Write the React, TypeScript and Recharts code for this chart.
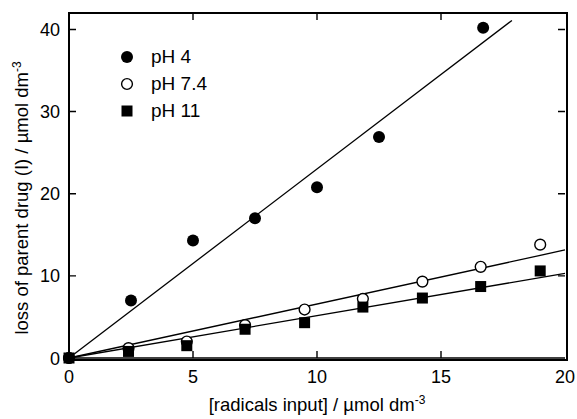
import { ComposedChart, XAxis, YAxis, Scatter, Line } from 'recharts'

const ph4 = [
  { x: 0, y: 0 },
  { x: 2.5, y: 7.0 },
  { x: 5.0, y: 14.3 },
  { x: 7.5, y: 17.0 },
  { x: 10.0, y: 20.8 },
  { x: 12.5, y: 26.9 },
  { x: 16.7, y: 40.2 },
]

const ph74 = [
  { x: 0, y: 0 },
  { x: 2.4, y: 1.2 },
  { x: 4.75, y: 2.0 },
  { x: 7.1, y: 4.0 },
  { x: 9.5, y: 5.9 },
  { x: 11.85, y: 7.2 },
  { x: 14.25, y: 9.3 },
  { x: 16.6, y: 11.1 },
  { x: 19.0, y: 13.8 },
]

const ph11 = [
  { x: 0, y: 0 },
  { x: 2.4, y: 0.8 },
  { x: 4.75, y: 1.5 },
  { x: 7.1, y: 3.5 },
  { x: 9.5, y: 4.3 },
  { x: 11.85, y: 6.2 },
  { x: 14.25, y: 7.3 },
  { x: 16.6, y: 8.7 },
  { x: 19.0, y: 10.6 },
]

// straight-line fits
const fit4 = [
  { x: 0, y: 0 },
  { x: 17.86, y: 41.1 },
]
const fit74 = [
  { x: 0, y: 0 },
  { x: 20, y: 13.15 },
]
const fit11 = [
  { x: 0, y: 0 },
  { x: 20, y: 10.3 },
]

const X_MAX = 20
const Y_MAX = 42
const xTicks = [0, 5, 10, 15, 20]
const yTicks = [0, 10, 20, 30, 40]
const legendItems = [
  { label: 'pH 4', kind: 'filled' },
  { label: 'pH 7.4', kind: 'open' },
  { label: 'pH 11', kind: 'square' },
]

const FONT = '"Liberation Sans", Arial, Helvetica, sans-serif'
const TICK = 7

// chart box
const W = 577
const H = 419
const MARGIN = { top: 13, right: 12, bottom: 0, left: 9 }
const Y_AXIS_W = 60
const X_AXIS_H = 61
const PLOT_X = MARGIN.left + Y_AXIS_W
const PLOT_W = W - MARGIN.left - MARGIN.right - Y_AXIS_W
const PLOT_H = H - MARGIN.top - MARGIN.bottom - X_AXIS_H

const FilledDot = (p: any) => <circle cx={p.cx} cy={p.cy} r={6} fill="#000" />
const OpenDot = (p: any) => (
  <circle cx={p.cx} cy={p.cy} r={5.4} fill="#fff" stroke="#000" strokeWidth={1.4} />
)
const SquareDot = (p: any) => (
  <rect x={p.cx - 5.5} y={p.cy - 5.5} width={11} height={11} fill="#000" />
)

// bottom tick: inward mark, label and the matching mark on the top edge
const BottomTick = (p: any) => {
  const v = p.payload.value
  const top = p.y - PLOT_H
  const inner = v !== 0 && v !== X_MAX
  return (
    <g>
      {inner && (
        <path
          d={`M${p.x},${p.y}V${p.y - TICK}M${p.x},${top}V${top + TICK}`}
          stroke="#000"
          strokeWidth={1.4}
          fill="none"
        />
      )}
      <text x={p.x} y={p.y + 25} textAnchor="middle" fontFamily={FONT} fontSize={18} fill="#000">
        {v}
      </text>
    </g>
  )
}

// left tick: inward mark, label and the matching mark on the right edge
const LeftTick = (p: any) => {
  const v = p.payload.value
  const right = p.x + PLOT_W
  return (
    <g>
      {v !== 0 && (
        <path
          d={`M${p.x},${p.y}H${p.x + TICK}M${right},${p.y}H${right - TICK}`}
          stroke="#000"
          strokeWidth={1.4}
          fill="none"
        />
      )}
      <text x={p.x - 9} y={p.y + 6.5} textAnchor="end" fontFamily={FONT} fontSize={18} fill="#000">
        {v}
      </text>
    </g>
  )
}

function LegendBox() {
  return (
    <div
      style={{
        position: 'absolute',
        left: 117,
        top: 43,
        fontFamily: FONT,
        fontSize: 19,
        color: '#000',
      }}
    >
      {legendItems.map((it) => (
        <div key={it.label} style={{ display: 'flex', alignItems: 'center', height: 27 }}>
          <svg width={20} height={20} style={{ marginRight: 14 }}>
            {it.kind === 'filled' && <circle cx={10} cy={10} r={6} fill="#000" />}
            {it.kind === 'open' && (
              <circle cx={10} cy={10} r={5.4} fill="#fff" stroke="#000" strokeWidth={1.4} />
            )}
            {it.kind === 'square' && <rect x={4.5} y={4.5} width={11} height={11} fill="#000" />}
          </svg>
          <span>{it.label}</span>
        </div>
      ))}
    </div>
  )
}

const YTitle = () => (
  <text
    x={28}
    y={198}
    transform="rotate(-90 28 198)"
    textAnchor="middle"
    fontFamily={FONT}
    fontSize={18.5}
    fill="#000"
  >
    loss of parent drug (I) / µmol dm
    <tspan dy={-7} fontSize={12}>-3</tspan>
  </text>
)

const XTitle = () => (
  <text x={317} y={411} textAnchor="middle" fontFamily={FONT} fontSize={18.5} fill="#000">
    [radicals input] / µmol dm
    <tspan dy={-7} fontSize={12}>-3</tspan>
  </text>
)

const axisLine = { stroke: '#000', strokeWidth: 1.6 }

export default function App() {
  return (
    <div style={{ position: 'relative', width: W, height: H, background: '#fff' }}>
      <style>{'body{margin:0}'}</style>
      <ComposedChart width={W} height={H} margin={MARGIN}>
        <XAxis
          dataKey="x"
          type="number"
          domain={[0, X_MAX]}
          ticks={xTicks}
          height={X_AXIS_H}
          axisLine={axisLine}
          tickLine={false}
          tickSize={0}
          tickMargin={0}
          tick={BottomTick}
        />
        <YAxis
          dataKey="y"
          type="number"
          domain={[0, Y_MAX]}
          ticks={yTicks}
          width={Y_AXIS_W}
          axisLine={axisLine}
          tickLine={false}
          tickSize={0}
          tickMargin={0}
          tick={LeftTick}
        />
        <Line data={fit4} dataKey="y" stroke="#000" strokeWidth={1.3} dot={false} isAnimationActive={false} />
        <Line data={fit74} dataKey="y" stroke="#000" strokeWidth={1.3} dot={false} isAnimationActive={false} />
        <Line data={fit11} dataKey="y" stroke="#000" strokeWidth={1.3} dot={false} isAnimationActive={false} />
        <Scatter data={ph74} dataKey="y" shape={OpenDot} isAnimationActive={false} />
        <Scatter data={ph11} dataKey="y" shape={SquareDot} isAnimationActive={false} />
        <Scatter data={ph4} dataKey="y" shape={FilledDot} isAnimationActive={false} />
        <YTitle />
        <XTitle />
      </ComposedChart>
      {/* box around the plot area */}
      <div
        style={{
          position: 'absolute',
          left: PLOT_X - 1,
          top: MARGIN.top - 1,
          width: PLOT_W,
          height: PLOT_H,
          border: '2px solid #000',
          pointerEvents: 'none',
        }}
      />
      <LegendBox />
    </div>
  )
}
